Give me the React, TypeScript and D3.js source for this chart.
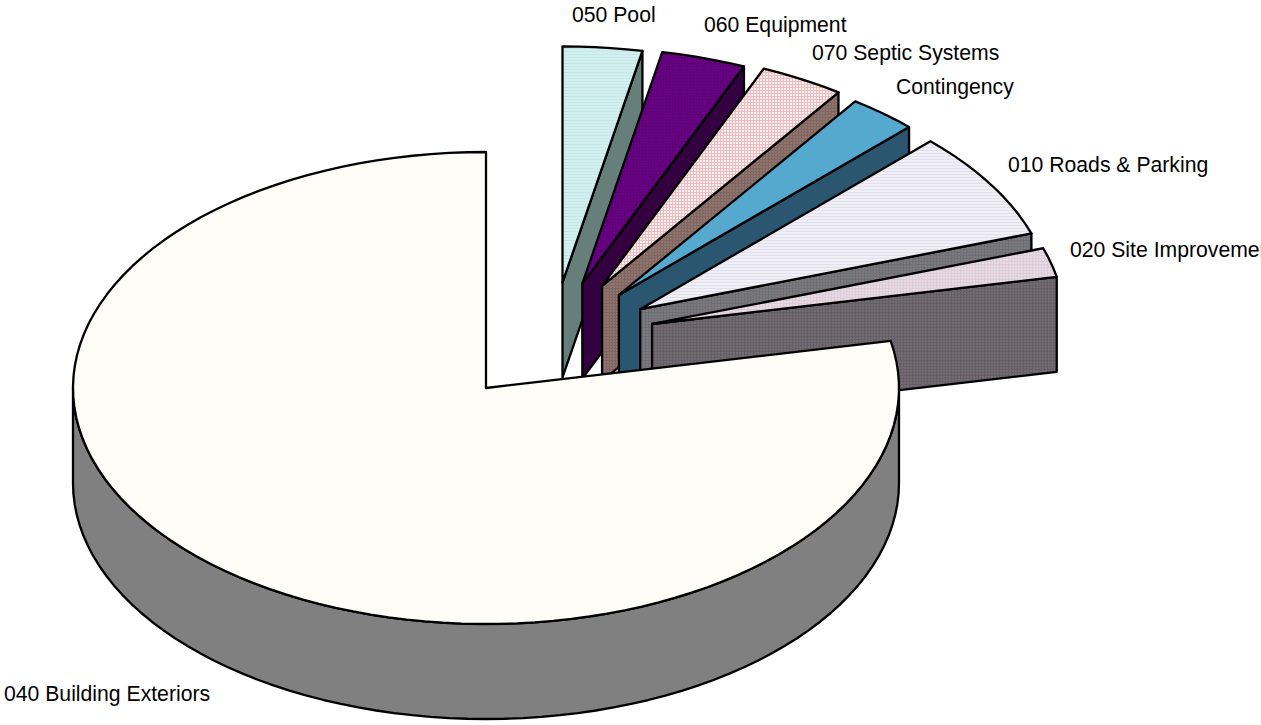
import React from "react";
import * as d3 from "d3";

// Share of project cost for each budget line, in drawing order.
const categories = [
  "050 Pool",
  "060 Equipment",
  "070 Septic Systems",
  "Contingency",
  "010 Roads & Parking",
  "020 Site Improvements",
  "040 Building Exteriors",
];
const shares = [3.1, 3.3, 3.3, 2.7, 7.4, 2.0, 78.2];

// Explosion of each wedge: heading in degrees and distance as a fraction of the radius.
const explodeHeading = [22.5, 27.8, 33, 39.2, 48.2, 56, 0];
const explodeDistance = [0.484, 0.5, 0.516, 0.509, 0.501, 0.485, 0];

// Fine dither textures: [id, base colour, weave colour, weave kind]
const textures: [string, string, string, "grid" | "rows"][] = [
  ["poolTop", "#D3EFEE", "#C4E8E8", "rows"],
  ["equipTop", "#6A0086", "#5E0076", "grid"],
  ["septicTop", "#F9EFEF", "#EBBDC0", "grid"],
  ["roadsTop", "#F0EFF6", "#E2E0EC", "rows"],
  ["siteTop", "#E9DBE4", "#DDCCD9", "grid"],
  ["septicWall", "#90756F", "#806762", "grid"],
  ["roadsWall", "#7B7A7F", "#706F75", "grid"],
  ["siteWall", "#746C75", "#675F66", "grid"],
];

const topFills = [
  "url(#poolTop)",
  "url(#equipTop)",
  "url(#septicTop)",
  "#55A9CF",
  "url(#roadsTop)",
  "url(#siteTop)",
  "#FFFDF7",
];
const wallFills = [
  "#667F7B",
  "#330040",
  "url(#septicWall)",
  "#2A5670",
  "url(#roadsWall)",
  "url(#siteWall)",
  "#808080",
];

const labelX = [572, 704, 812, 896, 1008, 1070, 4];
const labelY = [22, 32, 60, 94, 172, 257, 701];

const WIDTH = 1261;
const HEIGHT = 725;
const CX = 486;
const CY = 388;
const RX = 413;
const RY = 236;
const DEPTH = 95;

// Flat-pie unit coordinates are projected onto the tilted ellipse.
const px = d3.scaleLinear().domain([-1, 1]).range([CX - RX, CX + RX]);
const py = d3.scaleLinear().domain([-1, 1]).range([CY - RY, CY + RY]);

const pie = d3
  .pie<number>()
  .sort(null)
  .value((d) => d)
  .startAngle(0)
  .endAngle(2 * Math.PI);

const wedges = pie(shares);
const line = d3.line();

function arcPoints(a0: number, a1: number, ox: number, oy: number, dy = 0): [number, number][] {
  const n = Math.max(2, Math.ceil((a1 - a0) / 0.045));
  return d3.range(n + 1).map((i) => {
    const a = a0 + ((a1 - a0) * i) / n;
    return [px(ox + Math.sin(a)), py(oy - Math.cos(a)) + dy] as [number, number];
  });
}

export default function App() {
  return (
    <svg
      width={WIDTH}
      height={HEIGHT}
      viewBox={`0 0 ${WIDTH} ${HEIGHT}`}
      style={{ position: "absolute", left: 0, top: 0, background: "#fff" }}
      fontFamily="'Liberation Sans', Arial, sans-serif"
    >
      <defs>
        {textures.map(([id, base, weave, kind]) => (
          <pattern key={id} id={id} width={3} height={3} patternUnits="userSpaceOnUse">
            <rect width={3} height={3} fill={base} />
            <rect width={3} height={1} fill={weave} />
            {kind === "grid" && <rect width={1} height={3} fill={weave} />}
          </pattern>
        ))}
      </defs>
      {wedges.map((w, i) => {
        const h = (explodeHeading[i] * Math.PI) / 180;
        const ox = Math.sin(h) * explodeDistance[i];
        const oy = -Math.cos(h) * explodeDistance[i];
        const apex: [number, number] = [px(ox), py(oy)];
        const rim = arcPoints(w.startAngle, w.endAngle, ox, oy);
        const last = rim[rim.length - 1];
        const cutWall: [number, number][] = [
          last,
          apex,
          [apex[0], apex[1] + DEPTH],
          [last[0], last[1] + DEPTH],
        ];
        // Only the front half of the rim shows a curved wall.
        const a0 = Math.max(w.startAngle, Math.PI / 2);
        const a1 = Math.min(w.endAngle, 1.5 * Math.PI);
        const hasFront = a1 > a0;
        const front = hasFront
          ? [...arcPoints(a0, a1, ox, oy), ...arcPoints(a0, a1, ox, oy, DEPTH).reverse()]
          : [];
        return (
          <g key={categories[i]} stroke="#000" strokeWidth={2.3} strokeLinejoin="round">
            {i < 6 && <path d={line(cutWall) + "Z"} fill={wallFills[i]} />}
            {hasFront && <path d={line(front as [number, number][]) + "Z"} fill={wallFills[i]} />}
            <path d={line([apex, ...rim]) + "Z"} fill={topFills[i]} />
          </g>
        );
      })}
      {categories.map((c, i) => (
        <text key={c} x={labelX[i]} y={labelY[i]} fontSize={21.2} fill="#000">
          {c}
        </text>
      ))}
    </svg>
  );
}
